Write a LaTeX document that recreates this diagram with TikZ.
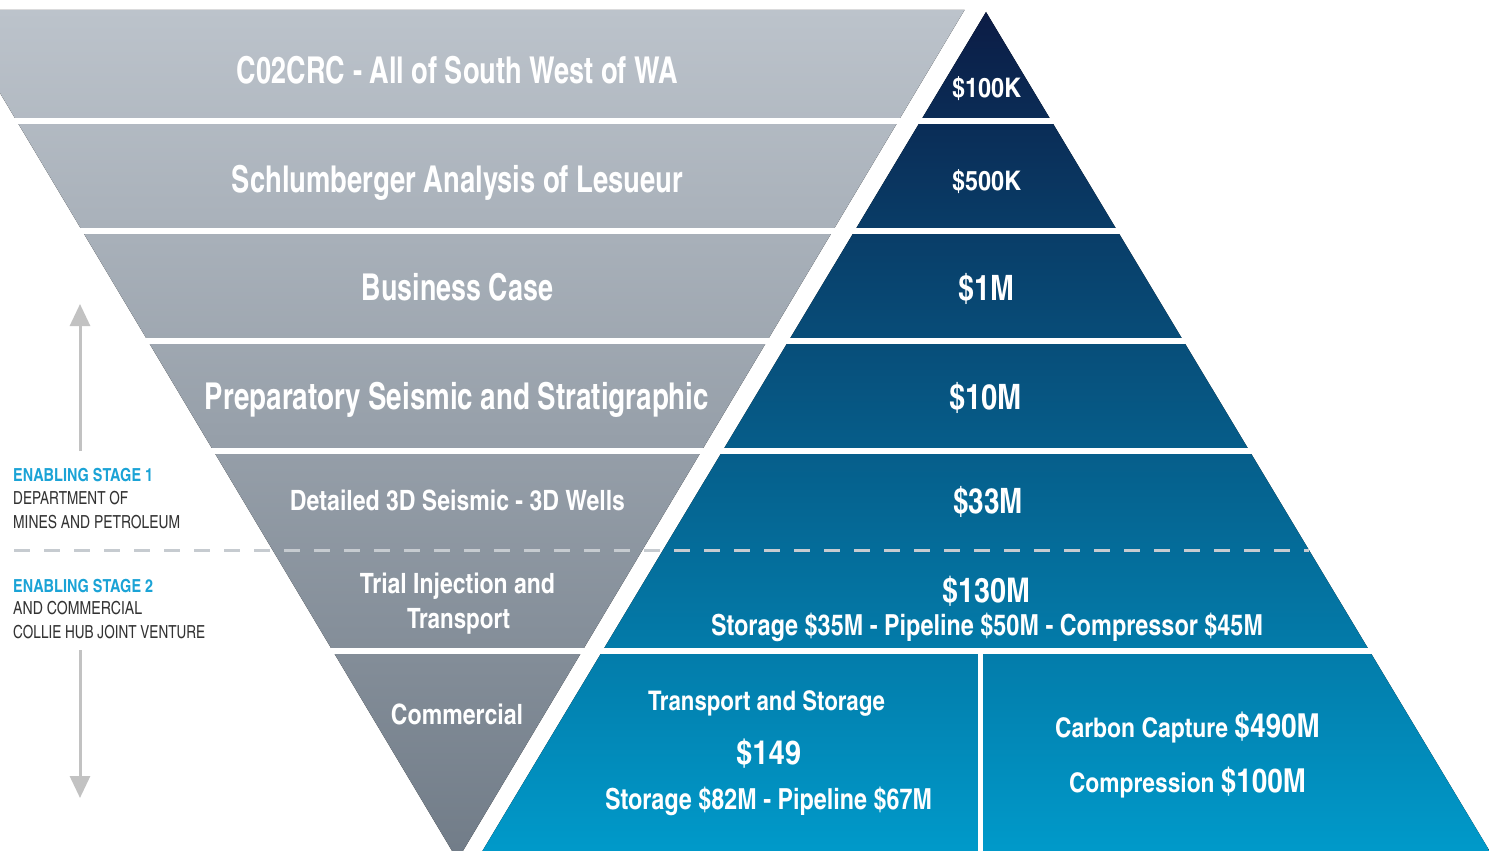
\documentclass[tikz,border=0pt]{standalone}
\usepackage{fontspec}
\setmainfont{texgyreheroscn}[Extension=.otf, UprightFont=*-regular, BoldFont=*-bold, ItalicFont=*-italic, BoldItalicFont=*-bolditalic]
\usetikzlibrary{arrows.meta}
\definecolor{gtop}{HTML}{BCC3CB}
\definecolor{gbot}{HTML}{717C88}
\definecolor{btop}{HTML}{0C1C45}
\definecolor{bbot}{HTML}{009BCB}
\definecolor{cyanlbl}{HTML}{1BA3D6}
\definecolor{darklbl}{HTML}{333333}
\definecolor{arrowgray}{HTML}{C2C2C2}
\definecolor{dashgray}{HTML}{C6CBD0}
\newcommand\fw[2]{\resizebox{#1pt}{\height}{#2}}
\newcommand\szA{\fontsize{37}{37}\selectfont}
\newcommand\szB{\fontsize{28}{28}\selectfont}
\newcommand\szC{\fontsize{35}{35}\selectfont}
\tikzset{
  wt/.style={text=white, anchor=base, inner sep=0pt, font=\bfseries},
  stagehead/.style={text=cyanlbl, anchor=base west, inner sep=0pt, font=\bfseries\fontsize{18}{18}\selectfont},
  stagetxt/.style={text=darklbl, anchor=base west, inner sep=0pt, font=\fontsize{18}{18}\selectfont},
  gapstrip/.style={fill=white, draw=none},
  stagearrow/.style={draw=arrowgray, line width=3pt, -{Triangle[length=22pt,width=20pt]}},
  dashline/.style={draw=dashgray, line width=3pt, dash pattern=on 16pt off 14pt},
}
\begin{document}
\begin{tikzpicture}[x=1pt,y=-1pt]
\useasboundingbox (0,0) rectangle (1489,851);
\clip (0,0) rectangle (1489,851);
% triangles
\fill[top color=gtop, bottom color=gbot] (-49.5,10) -- (964.5,10) -- (457.5,860) -- cycle;
\fill[top color=btop, bottom color=bbot] (986,12) -- (1495,860) -- (477,860) -- cycle;
% white gaps between bands
\foreach \y in {118,228,338,448,648} {
  \fill[gapstrip] (0,\y) rectangle (1489,\y+6);
}
\fill[gapstrip] (977.5,654) rectangle (982.5,851);
% dashed separator
\coordinate (ds) at (14,550);
\coordinate (de) at (1309,550);
\draw[dashline] (ds) -- (de);
% arrows
\coordinate (up0) at (80,451);
\coordinate (up1) at (80,304);
\coordinate (dn0) at (80,650);
\coordinate (dn1) at (80,798);
\draw[stagearrow] (up0) -- (up1);
\draw[stagearrow] (dn0) -- (dn1);
% gray labels
\node[wt] (g1) at (457.5,83) {\szA\fw{441}{C02CRC - All of South West of WA}};
\node[wt] (g2) at (457.5,192) {\szA\fw{451}{Schlumberger Analysis of Lesueur}};
\node[wt] (g3) at (457.5,300) {\szA\fw{191}{Business Case}};
\node[wt] (g4) at (457,409) {\szA\fw{504}{Preparatory Seismic and Stratigraphic}};
\node[wt] (g5) at (457.5,510) {\szB\fw{335}{Detailed 3D Seismic - 3D Wells}};
\node[wt] (g6a) at (457.5,593) {\szB\fw{195}{Trial Injection and}};
\node[wt] (g6b) at (458.5,628) {\szB\fw{103}{Transport}};
\node[wt] (g7) at (457,724) {\szB\fw{132}{Commercial}};
% blue labels
\node[wt] (b1) at (986.5,97) {\fontsize{27}{27}\selectfont\fw{69}{\$100K}};
\node[wt] (b2) at (986.5,190) {\fontsize{27}{27}\selectfont\fw{69}{\$500K}};
\node[wt] (b3) at (986,300) {\szC\fw{56}{\$1M}};
\node[wt] (b4) at (985.5,409) {\szC\fw{73}{\$10M}};
\node[wt] (b5) at (988,513) {\szC\fw{70}{\$33M}};
\node[wt] (b6) at (986,602) {\fontsize{34}{34}\selectfont\fw{88}{\$130M}};
\node[wt] (b6s) at (987,635) {\fontsize{29}{29}\selectfont\fw{552}{Storage \$35M - Pipeline \$50M - Compressor \$45M}};
\node[wt] (b7a) at (766.5,710) {\fontsize{27}{27}\selectfont\fw{237}{Transport and Storage}};
\node[wt] (b7b) at (768.5,764) {\fontsize{33}{33}\selectfont\fw{65}{\$149}};
\node[wt] (b7c) at (768.5,809) {\fontsize{29}{29}\selectfont\fw{327}{Storage \$82M - Pipeline \$67M}};
\node[wt] (b8a) at (1187.5,737) {\fw{265}{\fontsize{27}{27}\selectfont Carbon Capture {\fontsize{33}{33}\selectfont\$490M}}};
\node[wt] (b8b) at (1187.5,792) {\fw{237}{\fontsize{27}{27}\selectfont Compression {\fontsize{33}{33}\selectfont\$100M}}};
% left stage labels
\node[stagehead] (s1) at (13,481) {\fw{140}{ENABLING STAGE 1}};
\node[stagetxt] (s1a) at (13,504) {\fw{115}{DEPARTMENT OF}};
\node[stagetxt] (s1b) at (13,528) {\fw{167}{MINES AND PETROLEUM}};
\node[stagehead] (s2) at (13,592) {\fw{140}{ENABLING STAGE 2}};
\node[stagetxt] (s2a) at (13,614) {\fw{129}{AND COMMERCIAL}};
\node[stagetxt] (s2b) at (13,638) {\fw{192}{COLLIE HUB JOINT VENTURE}};
\end{tikzpicture}
\end{document}
